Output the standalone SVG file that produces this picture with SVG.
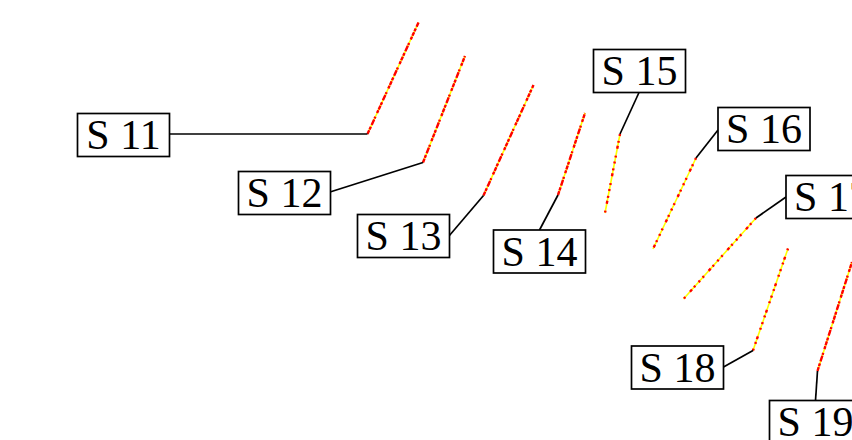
<svg xmlns="http://www.w3.org/2000/svg" width="852" height="440" viewBox="0 0 852 440">
<style>
.box{fill:#fff;stroke:#000;stroke-width:1.7}
.lbl{font-family:"Liberation Serif","Times New Roman",serif;font-size:42px;fill:#000;text-anchor:middle}
.lead{fill:none;stroke:#000;stroke-width:1.7}
.trk{fill:none;stroke:#ffff00;stroke-width:1.6}
.dot{fill:none;stroke:#ff0000;stroke-width:2.4;stroke-dasharray:4 1 3 2 6 1 2 4 3 1}
.sp{fill:none;stroke:#ff0000;stroke-width:2.4;stroke-dasharray:2 5 2 3 3 7 2 4}
</style>
<rect width="852" height="440" fill="#fff"/>
<g id="tracks">
<polyline class="trk" points="367.5,134 418.5,22.5"/>
<polyline class="dot" points="367.5,134 418.5,22.5"/>
<polyline class="trk" points="423,162.5 465,56"/>
<polyline class="dot" points="423,162.5 465,56"/>
<polyline class="trk" points="483.5,195.5 533.5,85"/>
<polyline class="dot" points="483.5,195.5 533.5,85"/>
<polyline class="trk" points="558,195 585,113"/>
<polyline class="dot" points="558,195 585,113"/>
<polyline class="trk" points="620,134 605,213"/>
<polyline class="sp" points="620,134 605,213"/>
<polyline class="trk" points="696,158 653,249"/>
<polyline class="sp" points="696,158 653,249"/>
<polyline class="trk" points="756,218 683.5,299"/>
<polyline class="sp" points="756,218 683.5,299"/>
<polyline class="trk" points="753,350.5 788,248.5"/>
<polyline class="sp" points="753,350.5 788,248.5"/>
<polyline class="trk" points="817.5,371 852,262"/>
<polyline class="dot" points="817.5,371 852,262"/>
</g>
<g id="connectors">
<polyline class="lead" points="169.5,134 367.5,134"/>
<polyline class="lead" points="330,192 423,162.5"/>
<polyline class="lead" points="449,236 483.5,195.5"/>
<polyline class="lead" points="539.5,230 558,195"/>
<polyline class="lead" points="639,92.5 620,134"/>
<polyline class="lead" points="718,130 696,158"/>
<polyline class="lead" points="786,197 756,218"/>
<polyline class="lead" points="723.5,367 753,350.5"/>
<polyline class="lead" points="815.5,400.5 817.5,371"/>
</g>
<g id="S11"><rect class="box" x="77.5" y="113.5" width="92" height="43"/><text class="lbl" x="123.5" y="149">S 11</text></g>
<g id="S12"><rect class="box" x="238.5" y="171.5" width="92" height="43"/><text class="lbl" x="284.5" y="207">S 12</text></g>
<g id="S13"><rect class="box" x="357.5" y="214.5" width="92" height="43"/><text class="lbl" x="403.5" y="250">S 13</text></g>
<g id="S14"><rect class="box" x="493.5" y="230" width="92" height="43"/><text class="lbl" x="539.5" y="265.5">S 14</text></g>
<g id="S15"><rect class="box" x="593.5" y="49.5" width="92" height="43"/><text class="lbl" x="639.5" y="85">S 15</text></g>
<g id="S16"><rect class="box" x="718" y="107.5" width="92" height="43"/><text class="lbl" x="764" y="143">S 16</text></g>
<g id="S17"><rect class="box" x="786" y="175.5" width="92" height="43"/><text class="lbl" x="832" y="211">S 17</text></g>
<g id="S18"><rect class="box" x="631.5" y="346" width="92" height="43"/><text class="lbl" x="677.5" y="381.5">S 18</text></g>
<g id="S19"><rect class="box" x="769.5" y="400.5" width="92" height="43"/><text class="lbl" x="815.5" y="436">S 19</text></g>
</svg>
